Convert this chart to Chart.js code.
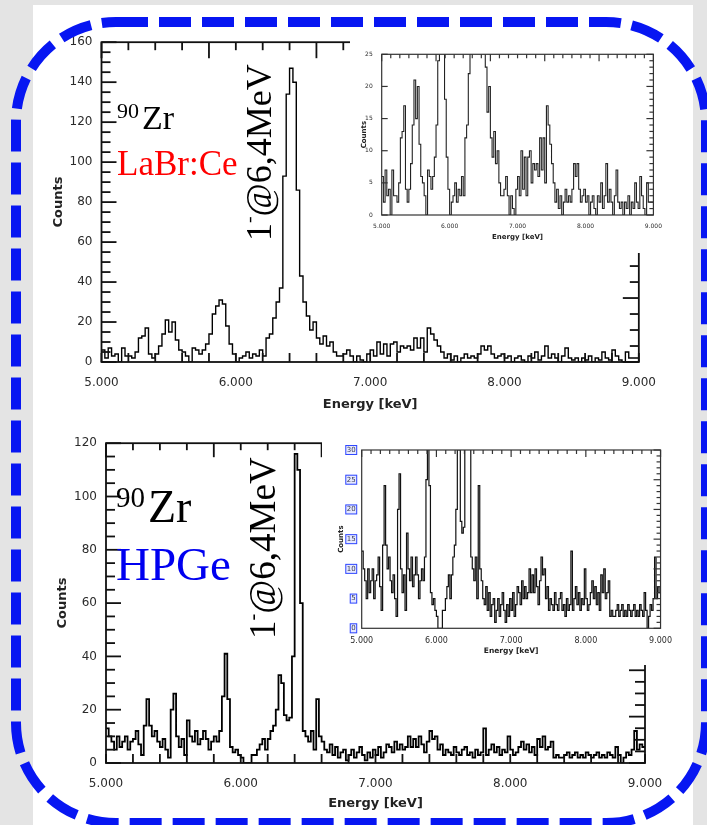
<!DOCTYPE html>
<html>
<head>
<meta charset="utf-8">
<title>90Zr spectra</title>
<script src="https://cdn.jsdelivr.net/npm/chart.js@4.4.1/dist/chart.umd.min.js"></script>
<style>
  body { margin: 0; width: 707px; height: 825px; position: relative; overflow: hidden; background: #e4e4e4; }
  #panel { position: absolute; left: 33px; top: 5px; width: 660px; height: 820px; background: #fff; }
  canvas { position: absolute; }
  #labrInset, #hpgeInset { background: #fff; }
  .note { position: absolute; font-family: "Liberation Serif", "Times New Roman", serif; line-height: 1; white-space: nowrap; color: #000; }
  .rot { transform-origin: 0 0; transform: rotate(-90deg); }
  .sup { font-size: 0.55em; vertical-align: 0.8em; }
  #border { left: 0; top: 0; pointer-events: none; }
</style>
</head>
<body>
<div id="panel"></div>
<canvas id="labrMain" width="640" height="404" style="left:30px;top:26px"></canvas>
<canvas id="hpgeMain" width="650" height="398" style="left:30px;top:427px"></canvas>
<canvas id="labrInset" width="320" height="217" style="left:350px;top:36px"></canvas>
<canvas id="hpgeInset" width="358" height="229" style="left:322px;top:436px"></canvas>

<div class="note" style="left:117px;top:100px;font-size:22px">90</div>
<div class="note" style="left:142px;top:101px;font-size:34px">Zr</div>
<div class="note" style="left:117px;top:146px;font-size:35px;color:#f00">LaBr:Ce</div>
<div class="note rot" style="left:239px;top:241px;font-size:36px">1<span class="sup">-</span>@6,4MeV</div>

<div class="note" style="left:116px;top:483px;font-size:29px">90</div>
<div class="note" style="left:148px;top:484px;font-size:46px">Zr</div>
<div class="note" style="left:116px;top:541px;font-size:47px;color:#0000f0">HPGe</div>
<div class="note rot" style="left:242px;top:639px;font-size:37px">1<span class="sup">-</span>@6,4MeV</div>

<canvas id="border" width="707" height="825"></canvas>

<script>
// Energy axis (MeV, labelled keV as in the original)
const energyTicks = [5, 6, 7, 8, 9];
const energyLabels = ['5.000', '6.000', '7.000', '8.000', '9.000'];
const labrCountTicks = [0, 20, 40, 60, 80, 100, 120, 140, 160];
const hpgeCountTicks = [0, 20, 40, 60, 80, 100, 120];
const labrInsetTicks = [0, 5, 10, 15, 20, 25];
const hpgeInsetTicks = [0, 5, 10, 15, 20, 25, 30];

const SPECTRUM_START = 5.0;

// LaBr:Ce counts, 25 keV bins from 5.000 (8 bins per row = 0.2 MeV)
const LABR_BIN_WIDTH = 0.025;
const labrCounts = [
  6, 2, 7, 3, 4, 0, 7, 3,
  3, 2, 5, 12, 13, 17, 4, 2,
  4, 8, 14, 21, 15, 20, 11, 6,
  5, 3, 0, 7, 6, 4, 6, 9,
  14, 24, 28, 31, 29, 18, 9, 4,
  0, 2, 3, 5, 2, 4, 3, 6,
  3, 12, 14, 22, 30, 37, 93, 134,
  147, 140, 86, 43, 30, 23, 16, 20,
  12, 9, 13, 8, 10, 5, 3, 3,
  4, 6, 3, 0, 3, 1, 0, 4,
  6, 3, 10, 4, 9, 3, 9, 10,
  5, 8, 7, 8, 6, 12, 7, 12,
  5, 17, 14, 11, 8, 5, 2, 4,
  1, 3, 0, 2, 4, 2, 3, 2,
  4, 8, 6, 8, 4, 2, 3, 4,
  2, 3, 0, 2, 3, 1, 0, 3,
  2, 5, 1, 3, 8, 2, 4, 2,
  0, 3, 7, 2, 1, 2, 0, 2,
  1, 3, 0, 2, 1, 5, 2, 1,
  6, 3, 1, 0, 5, 2, 2, 2
];

// HPGe counts, 20 keV bins from 5.000 (10 bins per row = 0.2 MeV)
const HPGE_BIN_WIDTH = 0.02;
const hpgeCounts = [
  13, 10, 8, 5, 10, 6, 8, 10, 5, 8,
  9, 12, 7, 3, 14, 24, 14, 10, 12, 8,
  6, 9, 5, 2, 20, 26, 10, 6, 9, 3,
  16, 10, 8, 12, 7, 9, 12, 9, 5, 8,
  10, 8, 12, 25, 41, 24, 6, 4, 5, 3,
  2, 0, 0, 0, 3, 3, 5, 7, 9, 5,
  9, 12, 14, 20, 33, 30, 18, 16, 17, 40,
  116, 110, 60, 12, 10, 8, 12, 5, 24, 10,
  8, 5, 4, 7, 3, 6, 2, 4, 5, 1,
  3, 5, 2, 4, 6, 3, 1, 4, 2, 5,
  3, 6, 2, 4, 7, 6, 4, 8, 5, 7,
  5, 6, 10, 6, 9, 6, 10, 7, 4, 8,
  12, 9, 10, 5, 7, 3, 5, 4, 3, 6,
  4, 3, 5, 6, 3, 4, 2, 5, 3, 4,
  13, 3, 5, 7, 4, 6, 3, 5, 4, 10,
  5, 3, 4, 6, 8, 5, 7, 4, 6, 3,
  9, 6, 10, 5, 6, 8, 2, 3, 2, 2,
  3, 4, 2, 3, 4, 2, 3, 2, 4, 3,
  2, 3, 4, 2, 3, 2, 4, 3, 2, 6,
  3, 0, 2, 4, 3, 5, 12, 5, 7, 6
];

// bin left edges + closing edge for a stepped histogram
function histPoints(counts, width) {
  const pts = counts.map((c, i) => ({ x: SPECTRUM_START + i * width, y: c }));
  pts.push({ x: SPECTRUM_START + counts.length * width, y: counts[counts.length - 1] });
  return pts;
}

function tickSet(min, max, step, longEvery) {
  const out = [];
  const n = Math.round((max - min) / step);
  for (let i = 0; i <= n; i++) {
    out.push({ v: min + i * step, long: longEvery > 0 && i % longEvery === 0 });
  }
  return out;
}

// axis box with inward ticks, positions from the chart scales
function makeFrame(name, cfg) {
  return {
    id: 'frame_' + name,
    afterDraw(chart) {
      const { ctx, chartArea: a } = chart;
      const xs = chart.scales.x, ys = chart.scales.y;
      ctx.save();
      ctx.strokeStyle = cfg.color;
      ctx.lineWidth = cfg.width;
      ctx.strokeRect(a.left, a.top, a.right - a.left, a.bottom - a.top);
      (cfg.leftTicks || []).forEach(t => {
        const py = ys.getPixelForValue(t.v);
        ctx.beginPath(); ctx.moveTo(a.left, py); ctx.lineTo(a.left + (t.long ? cfg.leftLong : cfg.leftShort), py); ctx.stroke();
      });
      (cfg.rightTicks || []).forEach(t => {
        const py = ys.getPixelForValue(t.v);
        ctx.beginPath(); ctx.moveTo(a.right, py); ctx.lineTo(a.right - (t.long ? cfg.rightLong : cfg.rightShort), py); ctx.stroke();
      });
      (cfg.bottomTicks || []).forEach(t => {
        const px = xs.getPixelForValue(t.v);
        ctx.beginPath(); ctx.moveTo(px, a.bottom); ctx.lineTo(px, a.bottom - cfg.bottomLen); ctx.stroke();
      });
      (cfg.topTicks || []).forEach(t => {
        const px = xs.getPixelForValue(t.v);
        ctx.beginPath(); ctx.moveTo(px, a.top); ctx.lineTo(px, a.top + (t.long ? cfg.topLong : cfg.topShort)); ctx.stroke();
      });
      if (cfg.labelBoxes) {
        ctx.font = cfg.labelFont;
        ctx.strokeStyle = '#3048ff';
        ctx.fillStyle = 'rgba(110,130,255,0.18)';
        ctx.lineWidth = 1;
        ys.ticks.forEach(t => {
          const py = ys.getPixelForValue(t.value);
          const w = ctx.measureText(String(t.value)).width;
          const rx = a.left - cfg.labelPad - w - 1.5;
          ctx.fillRect(rx, py - 5, w + 3, 10);
          ctx.strokeRect(rx + 0.5, py - 4.5, w + 2, 9);
        });
      }
      ctx.restore();
    }
  };
}

const tickColor = '#2b2b2b';

function spectrumChart(id, o) {
  return new Chart(document.getElementById(id), {
    type: 'line',
    data: {
      datasets: [{
        data: histPoints(o.counts, o.binWidth),
        stepped: true,
        borderColor: o.lineColor,
        borderWidth: o.lineWidth,
        pointRadius: 0,
        fill: false
      }]
    },
    options: {
      responsive: false,
      animation: false,
      events: [],
      layout: { padding: o.padding },
      plugins: { legend: { display: false }, tooltip: { enabled: false } },
      scales: {
        x: {
          type: 'linear',
          min: 5,
          max: 9,
          afterFit: s => { s.height = o.xHeight; },
          afterBuildTicks: s => { s.ticks = energyTicks.map(v => ({ value: v })); },
          ticks: {
            callback: (v, i) => energyLabels[i],
            font: { family: 'DejaVu Sans', size: o.xFont },
            color: tickColor,
            padding: o.xPad,
            maxRotation: 0,
            autoSkip: false
          },
          grid: { display: false, drawTicks: false },
          border: { display: false },
          title: {
            display: true,
            text: 'Energy [keV]',
            color: '#222',
            font: { family: 'DejaVu Sans', size: o.titleFont, weight: 'bold' },
            padding: { top: 0, bottom: o.xTitlePad }
          }
        },
        y: {
          type: 'linear',
          min: 0,
          max: o.yMax,
          afterFit: s => { s.width = o.yWidth; },
          afterBuildTicks: s => { s.ticks = o.yTicks.map(v => ({ value: v })); },
          ticks: {
            font: { family: 'DejaVu Sans', size: o.yFont },
            color: tickColor,
            padding: o.yPad
          },
          grid: { display: false, drawTicks: false },
          border: { display: false },
          title: {
            display: true,
            text: 'Counts',
            color: '#222',
            font: { family: 'DejaVu Sans', size: o.yTitleFont, weight: 'bold' },
            padding: { top: o.yTitlePad, bottom: 0 }
          }
        }
      }
    },
    plugins: [makeFrame(id, o.frame)]
  });
}

// top: LaBr:Ce full range
spectrumChart('labrMain', {
  counts: labrCounts, binWidth: LABR_BIN_WIDTH, lineColor: '#000', lineWidth: 1.4,
  padding: { left: 0, top: 0, right: 27.5, bottom: 0 },
  xHeight: 68, yWidth: 71.5, yMax: 160, yTicks: labrCountTicks,
  xFont: 12, yFont: 12, xPad: 14, yPad: 9, titleFont: 13, xTitlePad: 18, yTitleFont: 13, yTitlePad: 21,
  frame: {
    color: '#111', width: 1.8,
    leftTicks: tickSet(0, 160, 5, 4), leftLong: 15, leftShort: 9,
    rightTicks: tickSet(0, 160, 8, 4), rightLong: 16, rightShort: 9,
    bottomTicks: tickSet(5, 9, 0.2, 0), bottomLen: 9,
    topTicks: tickSet(5, 9, 0.2, 4), topLong: 16, topShort: 8
  }
});

// bottom: HPGe full range
spectrumChart('hpgeMain', {
  counts: hpgeCounts, binWidth: HPGE_BIN_WIDTH, lineColor: '#000', lineWidth: 1.8,
  padding: { left: 0, top: 0, right: 35, bottom: 0 },
  xHeight: 62, yWidth: 76, yMax: 120, yTicks: hpgeCountTicks,
  xFont: 12, yFont: 12, xPad: 14, yPad: 9, titleFont: 13, xTitlePad: 14, yTitleFont: 13, yTitlePad: 25,
  frame: {
    color: '#111', width: 1.8,
    leftTicks: tickSet(0, 120, 5, 4), leftLong: 15, leftShort: 9,
    rightTicks: tickSet(0, 120, 4.35, 4), rightLong: 16, rightShort: 10,
    bottomTicks: tickSet(5, 9, 0.2, 0), bottomLen: 9,
    topTicks: tickSet(5, 9, 0.2, 4), topLong: 14, topShort: 7
  }
});

// insets: same spectra, zoomed count axis
spectrumChart('labrInset', {
  counts: labrCounts, binWidth: LABR_BIN_WIDTH, lineColor: '#222', lineWidth: 1.1,
  padding: { left: 0, top: 18.3, right: 15, bottom: 0 },
  xHeight: 38, yWidth: 31.7, yMax: 25, yTicks: labrInsetTicks,
  xFont: 6, yFont: 6, xPad: 8, yPad: 9, titleFont: 7, xTitlePad: 11.5, yTitleFont: 7, yTitlePad: 10,
  frame: {
    color: '#333', width: 1.2,
    leftTicks: tickSet(0, 25, 5, 0), leftLong: 6, leftShort: 6,
    rightTicks: tickSet(0, 25, 1, 5), rightLong: 7, rightShort: 4,
    topTicks: tickSet(5, 9, 4 / 30, 6), topLong: 7, topShort: 4
  }
});

spectrumChart('hpgeInset', {
  counts: hpgeCounts, binWidth: HPGE_BIN_WIDTH, lineColor: '#111', lineWidth: 1.2,
  padding: { left: 0, top: 14, right: 18.3, bottom: 0 },
  xHeight: 36.7, yWidth: 39.7, yMax: 30, yTicks: hpgeInsetTicks,
  xFont: 8, yFont: 7, xPad: 8, yPad: 6, titleFont: 7.5, xTitlePad: 9.5, yTitleFont: 7, yTitlePad: 15,
  frame: {
    color: '#333', width: 1.2,
    rightTicks: tickSet(0, 30, 1, 5), rightLong: 7, rightShort: 4,
    topTicks: tickSet(5, 9, 0.125, 8), topLong: 7, topShort: 4,
    labelBoxes: true, labelFont: '7px "DejaVu Sans"', labelPad: 6
  }
});

// blue dashed rounded border
(function drawBorder() {
  const ctx = document.getElementById('border').getContext('2d');
  ctx.strokeStyle = '#0716f2';
  ctx.lineWidth = 10;
  ctx.setLineDash([32, 11]);
  ctx.beginPath();
  ctx.roundRect(16, 22, 690, 801, 100);
  ctx.stroke();
})();
</script>
</body>
</html>
